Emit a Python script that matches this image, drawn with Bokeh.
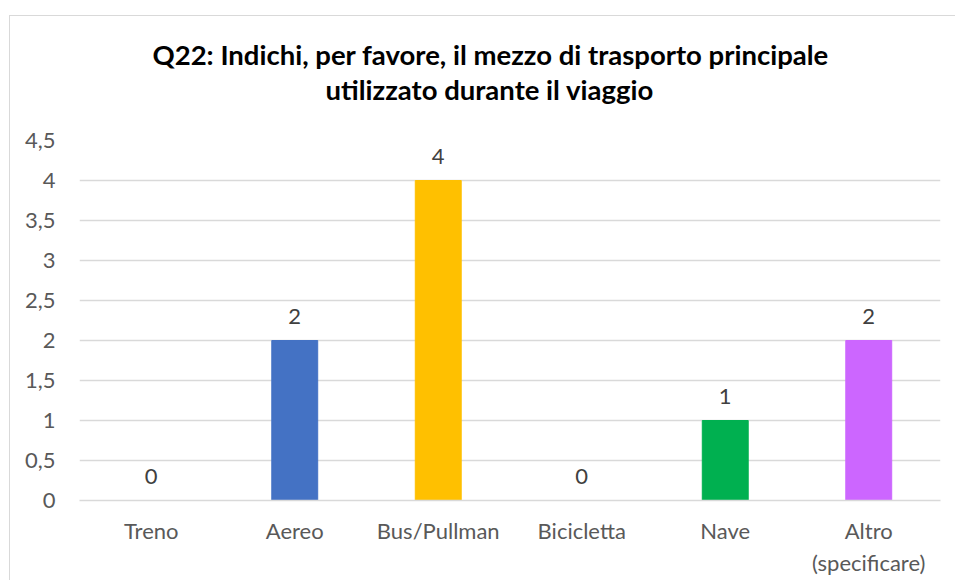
from bokeh.plotting import figure
from bokeh.models import ColumnDataSource, LabelSet, Title, Range1d, FactorRange, FixedTicker
from bokeh.core.properties import value
from bokeh.embed import file_html
from bokeh.resources import INLINE

categories = ["Treno", "Aereo", "Bus/Pullman", "Bicicletta", "Nave", "Altro\n(specificare)"]
values = [0, 2, 4, 0, 1, 2]
colors = ["#4472C4", "#4472C4", "#FFC000", "#4472C4", "#00B050", "#CC66FF"]
value_labels = [str(v) for v in values]
y_ticks = [0, 0.5, 1, 1.5, 2, 2.5, 3, 3.5, 4, 4.5]
y_tick_labels = ["0", "0,5", "1", "1,5", "2", "2,5", "3", "3,5", "4", "4,5"]
title_lines = ["Q22: Indichi, per favore, il mezzo di trasporto principale",
               "utilizzato durante il viaggio"]

FONT = "Lato"
GRAY = "#595959"
GRID = "#d9d9d9"

src = ColumnDataSource(dict(cat=categories, val=values, color=colors, lab=value_labels))

border_css = ("linear-gradient(#d9d9d9,#d9d9d9) 9px 15px / 100% 1px no-repeat, "
              "linear-gradient(#d9d9d9,#d9d9d9) 9px 15px / 1px 100% no-repeat")

p = figure(x_range=FactorRange(*categories, range_padding=0), y_range=Range1d(0, 4.5),
           width=955, height=580, output_backend="svg", toolbar_location=None,
           min_border_left=79, min_border_right=15, min_border_top=140, min_border_bottom=80,
           styles={"background": border_css})
p.outline_line_color = None
p.border_fill_color = None
p.background_fill_color = None

p.vbar(x="cat", top="val", width=0.32, color="color", source=src)

labels = LabelSet(x="cat", y="val", text="lab", source=src, text_align="center",
                  text_baseline="alphabetic", y_offset=17,
                  text_font=value(FONT), text_font_size="22px", text_color="#404040")
p.add_layout(labels)

# spacer between the title block and the plot area
p.add_layout(Title(text=" ", text_font_size="28px", standoff=2), "above")
# title lines (added bottom line first, they stack upward)
for txt, off in zip(reversed(title_lines), [246, 73]):
    p.add_layout(Title(text=txt, align="left", offset=off, standoff=0,
                       text_font=FONT, text_font_size="27.5px", text_font_style="bold",
                       text_color="#000000"), "above")

p.xgrid.grid_line_color = None
p.ygrid.grid_line_color = GRID
p.ygrid.grid_line_width = 1.5
p.yaxis.ticker = FixedTicker(ticks=y_ticks)
p.yaxis.major_label_overrides = {t: l for t, l in zip(y_ticks, y_tick_labels)}
p.yaxis.axis_line_color = None
p.yaxis.major_tick_line_color = None
p.yaxis.minor_tick_line_color = None
p.yaxis.major_label_standoff = 18
p.xaxis.axis_line_color = GRID
p.xaxis.axis_line_width = 1.5
p.xaxis.major_tick_line_color = None
p.xaxis.major_label_standoff = 10
for ax in (p.xaxis, p.yaxis):
    ax.major_label_text_font = FONT
    ax.major_label_text_font_size = "22px"
    ax.major_label_text_color = GRAY

open("out.html", "w").write(file_html(p, INLINE))
